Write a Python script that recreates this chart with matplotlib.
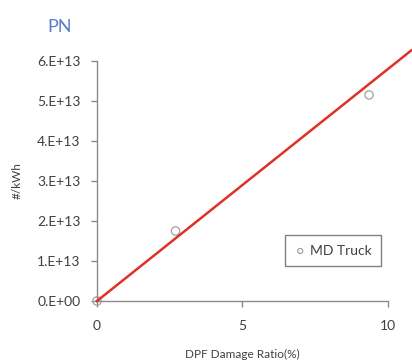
import numpy as np
import matplotlib
matplotlib.use('Agg')
import matplotlib.pyplot as plt
from matplotlib.ticker import FuncFormatter

plt.rcParams['font.family'] = ['Lato', 'DejaVu Sans']

# data
damage_ratio = [0.0, 2.7, 9.35]          # %
pn_values = [0.0, 1.75e13, 5.15e13]      # #/kWh
fit_slope = 5.8e12                       # #/kWh per %
fit_x = [0.0, 10.8]
y_ticks = [0, 1e13, 2e13, 3e13, 4e13, 5e13, 6e13]
x_ticks = [0, 5, 10]

fig = plt.figure(figsize=(4.12, 3.6), dpi=100)
ax = fig.add_axes([0.2354, 0.1639, 0.7063, 0.6667])

ax.plot(fit_x, [fit_slope * v for v in fit_x], color='#e0302a', lw=1.8,
        clip_on=False, zorder=3)
ax.scatter(damage_ratio, pn_values, s=36, facecolors='none',
           edgecolors='#a0a0a0', linewidths=0.9, label='MD Truck',
           clip_on=False, zorder=2)

ax.set_xlim(0, 10)
ax.set_ylim(0, 6e13)
ax.set_xticks(x_ticks)
ax.set_yticks(y_ticks)


def sci_fmt(v, pos):
    if v == 0:
        return '0.E+00'
    e = int(np.floor(np.log10(abs(v))))
    return '{}.E+{:02d}'.format(int(round(v / 10 ** e)), e)


ax.yaxis.set_major_formatter(FuncFormatter(sci_fmt))

for s in ['top', 'right']:
    ax.spines[s].set_visible(False)
for s in ['left', 'bottom']:
    ax.spines[s].set_color('#8a8a8a')
    ax.spines[s].set_linewidth(1.0)
ax.tick_params(colors='#8a8a8a', labelcolor='#404040', labelsize=10,
               length=4, width=1.0)
ax.tick_params(axis='y', pad=8)
ax.tick_params(axis='x', pad=10)

ax.set_xlabel('DPF Damage Ratio(%)', fontsize=8.5, color='#404040', labelpad=12)
ax.set_ylabel('#/kWh', fontsize=8.5, color='#404040', labelpad=10)

fig.text(0.145, 0.925, 'PN', fontsize=13, color='#5b7fc7', ha='center', va='center')

leg = ax.legend(loc='upper left', fontsize=10, frameon=True, fancybox=False,
                handletextpad=0.3, handlelength=0.8, borderpad=0.7,
                markerscale=0.6)
leg.get_frame().set_edgecolor('#606060')
leg.get_frame().set_linewidth(1.0)
for t in leg.get_texts():
    t.set_color('#404040')
# legend box in the reference sits at about px 278..380, 228..264
leg.set_bbox_to_anchor((278 / 412, 1 - 228 / 360), transform=fig.transFigure)

fig.savefig('out.png', dpi=100)
